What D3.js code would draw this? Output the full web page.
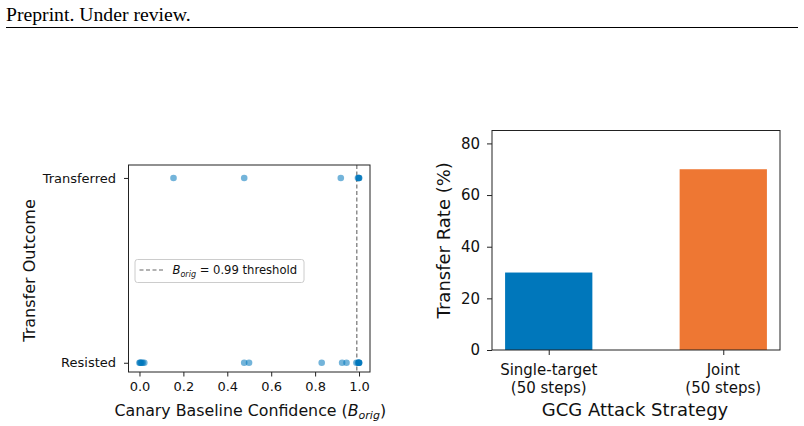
<!DOCTYPE html>
<html><head><meta charset="utf-8">
<script src="https://cdn.jsdelivr.net/npm/d3@7"></script>
<style>
body{margin:0;background:#fff;}
svg text{font-family:"DejaVu Sans",sans-serif;fill:#111;}
</style></head>
<body>
<svg id="c" width="804" height="426"></svg>
<script>
// ---- data ----
const transferredConf = [0.155, 0.477, 0.917, 0.995, 0.999, 1.0, 1.0];
const resistedConf = [0.0, 0.003, 0.006, 0.01, 0.015, 0.022, 0.477, 0.499, 0.83, 0.923, 0.943, 0.988, 0.995, 0.999, 1.0, 1.0, 1.0];
const outcomeLabels = ["Resisted", "Transferred"];
const xTicksLeft = [0.0, 0.2, 0.4, 0.6, 0.8, 1.0];
const threshold = 0.99;

const strategies = [["Single-target", "(50 steps)"], ["Joint", "(50 steps)"]];
const transferRates = [30, 70];
const barColors = ["#0077BB", "#EE7733"];
const yTicksRight = [0, 20, 40, 60, 80];

const svg = d3.select("#c");

// header
svg.append("text").attr("x", 6).attr("y", 20.5)
  .style("font-family", "'Liberation Serif','Times New Roman',serif")
  .style("font-size", "19.7px").style("fill", "#000")
  .text("Preprint. Under review.");
svg.append("line").attr("x1", 6).attr("x2", 798).attr("y1", 27.5).attr("y2", 27.5)
  .attr("stroke", "#000").attr("stroke-width", 1.2);

// ---- left scatter ----
const L = {x0: 128.5, x1: 370, y0: 165, y1: 372};
const xL = d3.scaleLinear().domain([-0.05, 1.05]).range([L.x0, L.x1]);
const yL = d3.scaleLinear().domain([-0.05, 1.07]).range([L.y1, L.y0]);
const gL = svg.append("g");

const pts = resistedConf.map(v => ({x: v, y: 0})).concat(transferredConf.map(v => ({x: v, y: 1})));

// threshold line
gL.append("line").attr("x1", xL(threshold)).attr("x2", xL(threshold))
  .attr("y1", L.y0).attr("y2", L.y1)
  .attr("stroke", "#666").attr("stroke-width", 1.1).attr("stroke-dasharray", "4,2.5");

gL.selectAll("circle").data(pts).join("circle")
  .attr("cx", d => xL(d.x)).attr("cy", d => yL(d.y)).attr("r", 3.3)
  .attr("fill", "#0077BB").attr("fill-opacity", 0.55);

// axes
const axL = gL.append("g").attr("transform", `translate(0,${L.y1})`)
  .call(d3.axisBottom(xL).tickValues(xTicksLeft).tickFormat(d3.format(".1f")).tickSize(4.5).tickPadding(5));
const ayL = gL.append("g").attr("transform", `translate(${L.x0},0)`)
  .call(d3.axisLeft(yL).tickValues([0, 1]).tickFormat(d => outcomeLabels[d]).tickSize(4.5).tickPadding(8));
[axL, ayL].forEach(a => {
  a.select(".domain").remove();
  a.selectAll("line").attr("stroke", "#222").attr("stroke-width", 1);
  a.selectAll("text").style("font-size", "13px").style("font-family", "DejaVu Sans").attr("fill", "#111");
});
gL.append("rect").attr("x", L.x0).attr("y", L.y0).attr("width", L.x1 - L.x0).attr("height", L.y1 - L.y0)
  .attr("fill", "none").attr("stroke", "#222").attr("stroke-width", 1);

// labels
const xlab = gL.append("text").attr("x", (L.x0 + L.x1) / 2 + 1).attr("y", 416).attr("text-anchor", "middle")
  .style("font-size", "15.8px");
xlab.append("tspan").text("Canary Baseline Confidence (");
xlab.append("tspan").style("font-style", "oblique").text("B");
xlab.append("tspan").style("font-style", "oblique").style("font-size", "11px").attr("dy", 3).text("orig");
xlab.append("tspan").attr("dy", -3).text(")");
gL.append("text").attr("transform", `translate(35,${(L.y0 + L.y1) / 2 + 2}) rotate(-90)`)
  .attr("text-anchor", "middle").style("font-size", "16px").text("Transfer Outcome");

// legend
const lg = gL.append("g");
lg.append("rect").attr("x", 135).attr("y", 259.5).attr("width", 169).attr("height", 23).attr("rx", 2.5)
  .attr("fill", "#fff").attr("fill-opacity", 0.8).attr("stroke", "#ccc").attr("stroke-width", 1);
lg.append("line").attr("x1", 139.5).attr("x2", 163.5).attr("y1", 270).attr("y2", 270)
  .attr("stroke", "#666").attr("stroke-width", 1.1).attr("stroke-dasharray", "4,2.5");
const lt = lg.append("text").attr("x", 172.5).attr("y", 274).style("font-size", "11.6px");
lt.append("tspan").style("font-style", "oblique").text("B");
lt.append("tspan").style("font-style", "oblique").style("font-size", "8px").attr("dy", 2.5).text("orig");
lt.append("tspan").attr("dy", -2.5).text(" = 0.99 threshold");

// ---- right bar chart ----
const R = {x0: 492, x1: 780, y0: 130.5, y1: 350};
const xR = d3.scaleLinear().domain([-0.325, 1.325]).range([R.x0, R.x1]);
const yR = d3.scaleLinear().domain([0, 85]).range([R.y1, R.y0]);
const gR = svg.append("g");
const bw = xR(0.25) - xR(-0.25);
gR.selectAll("rect.bar").data(transferRates).join("rect").attr("class", "bar")
  .attr("x", (d, i) => xR(i) - bw / 2).attr("width", bw)
  .attr("y", d => yR(d)).attr("height", d => yR(0) - yR(d))
  .attr("fill", (d, i) => barColors[i]);

const axR = gR.append("g").attr("transform", `translate(0,${R.y1})`)
  .call(d3.axisBottom(xR).tickValues([0, 1]).tickFormat("").tickSize(5));
const ayR = gR.append("g").attr("transform", `translate(${R.x0},0)`)
  .call(d3.axisLeft(yR).tickValues(yTicksRight).tickSize(5).tickPadding(7));
[axR, ayR].forEach(a => {
  a.select(".domain").remove();
  a.selectAll("line").attr("stroke", "#222").attr("stroke-width", 1);
  a.selectAll("text").style("font-size", "15px").style("font-family", "DejaVu Sans").attr("fill", "#111");
});
gR.selectAll("text.cat").data(strategies).join("text").attr("class", "cat")
  .attr("text-anchor", "middle").style("font-size", "15px")
  .each(function(d, i) {
    const t = d3.select(this);
    d.forEach((line, k) => t.append("tspan").attr("x", xR(i)).attr("y", 375 + k * 17.5).text(line));
  });
gR.append("rect").attr("x", R.x0).attr("y", R.y0).attr("width", R.x1 - R.x0).attr("height", R.y1 - R.y0)
  .attr("fill", "none").attr("stroke", "#222").attr("stroke-width", 1);
gR.append("text").attr("x", (R.x0 + R.x1) / 2 - 1).attr("y", 416).attr("text-anchor", "middle")
  .style("font-size", "18px").text("GCG Attack Strategy");
gR.append("text").attr("transform", `translate(450,${(R.y0 + R.y1) / 2}) rotate(-90)`)
  .attr("text-anchor", "middle").style("font-size", "18px").text("Transfer Rate (%)");
</script>
</body></html>
